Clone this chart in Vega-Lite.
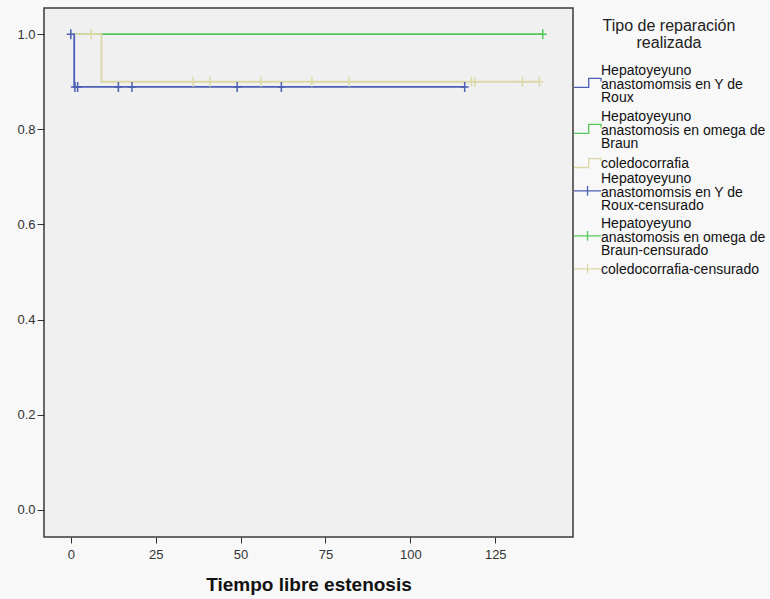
{
  "$schema": "https://vega.github.io/schema/vega-lite/v6.json",
  "width": 529,
  "height": 529,
  "autosize": "none",
  "padding": {"left": 44, "top": 8, "right": 197, "bottom": 62},
  "background": "#f8f8f8",
  "config": {
    "font": "Liberation Sans",
    "view": {"fill": "#f0f0f0", "stroke": "#3a3a3a", "strokeWidth": 1.5},
    "legend": {
      "labelFontSize": 14, "labelColor": "#111", "labelOffset": 12, "labelLimit": 300,
      "symbolSize": 196, "padding": 0
    }
  },
  "resolve": {"scale": {"stroke": "independent"}, "legend": {"stroke": "independent"}},
  "datasets": {
    "curvas": [
      {"tipo": "Hepatoyeyuno anastomosis en omega de Braun", "t": 0, "s": 1.0},
      {"tipo": "Hepatoyeyuno anastomosis en omega de Braun", "t": 139, "s": 1.0},
      {"tipo": "Hepatoyeyuno anastomomsis en Y de Roux", "t": 0, "s": 1.0},
      {"tipo": "Hepatoyeyuno anastomomsis en Y de Roux", "t": 1, "s": 0.889},
      {"tipo": "Hepatoyeyuno anastomomsis en Y de Roux", "t": 116, "s": 0.889},
      {"tipo": "coledocorrafia", "t": 0, "s": 1.0},
      {"tipo": "coledocorrafia", "t": 9, "s": 0.9},
      {"tipo": "coledocorrafia", "t": 138, "s": 0.9}
    ],
    "censuras": [
      {"tipo": "Hepatoyeyuno anastomomsis en Y de Roux-censurado", "t": 0, "s": 1.0},
      {"tipo": "Hepatoyeyuno anastomomsis en Y de Roux-censurado", "t": 1.2, "s": 0.889},
      {"tipo": "Hepatoyeyuno anastomomsis en Y de Roux-censurado", "t": 2, "s": 0.889},
      {"tipo": "Hepatoyeyuno anastomomsis en Y de Roux-censurado", "t": 14, "s": 0.889},
      {"tipo": "Hepatoyeyuno anastomomsis en Y de Roux-censurado", "t": 18, "s": 0.889},
      {"tipo": "Hepatoyeyuno anastomomsis en Y de Roux-censurado", "t": 49, "s": 0.889},
      {"tipo": "Hepatoyeyuno anastomomsis en Y de Roux-censurado", "t": 62, "s": 0.889},
      {"tipo": "Hepatoyeyuno anastomomsis en Y de Roux-censurado", "t": 116, "s": 0.889},
      {"tipo": "Hepatoyeyuno anastomosis en omega de Braun-censurado", "t": 139, "s": 1.0},
      {"tipo": "coledocorrafia-censurado", "t": 6, "s": 1.0},
      {"tipo": "coledocorrafia-censurado", "t": 36, "s": 0.9},
      {"tipo": "coledocorrafia-censurado", "t": 41, "s": 0.9},
      {"tipo": "coledocorrafia-censurado", "t": 56, "s": 0.9},
      {"tipo": "coledocorrafia-censurado", "t": 71, "s": 0.9},
      {"tipo": "coledocorrafia-censurado", "t": 82, "s": 0.9},
      {"tipo": "coledocorrafia-censurado", "t": 118, "s": 0.9},
      {"tipo": "coledocorrafia-censurado", "t": 119, "s": 0.9},
      {"tipo": "coledocorrafia-censurado", "t": 133, "s": 0.9},
      {"tipo": "coledocorrafia-censurado", "t": 138, "s": 0.9}
    ]
  },
  "encoding": {
    "x": {
      "field": "t", "type": "quantitative",
      "scale": {"domain": [-7.9, 147.9], "nice": false, "zero": false},
      "axis": {
        "values": [0, 25, 50, 75, 100, 125], "grid": false, "domain": false,
        "tickSize": 6, "tickColor": "#333", "labelColor": "#333", "labelFontSize": 13,
        "labelPadding": 5, "labelFlush": false,
        "title": "Tiempo libre estenosis", "titleFontSize": 19, "titleFontWeight": "bold",
        "titleColor": "#111", "titlePadding": 14
      }
    },
    "y": {
      "field": "s", "type": "quantitative",
      "scale": {"domain": [-0.057, 1.055], "nice": false, "zero": false},
      "axis": {
        "values": [0, 0.2, 0.4, 0.6, 0.8, 1.0], "format": ".1f", "grid": false, "domain": false,
        "tickSize": 7, "tickColor": "#333", "labelColor": "#333", "labelFontSize": 13,
        "labelPadding": 2, "labelFlush": false, "title": null
      }
    }
  },
  "layer": [
    {
      "data": {"name": "curvas"},
      "mark": {"type": "line", "interpolate": "step-after", "strokeWidth": 1.8},
      "encoding": {
        "stroke": {
          "field": "tipo", "type": "nominal",
          "scale": {
            "domain": [
              "Hepatoyeyuno anastomomsis en Y de Roux",
              "Hepatoyeyuno anastomosis en omega de Braun",
              "coledocorrafia"
            ],
            "range": ["#4a5fb5", "#55c85a", "#dcd7a6"]
          },
          "legend": {
            "orient": "none", "legendX": 529, "legendY": 10,
            "title": ["Tipo de reparación", "realizada"],
            "titleFontSize": 16, "titleFontWeight": "normal", "titleColor": "#222",
            "titleAlign": "center", "titleAnchor": "middle", "titleLineHeight": 17, "titlePadding": 12,
            "rowPadding": 4,
            "labelExpr": "datum.label == 'Hepatoyeyuno anastomomsis en Y de Roux' ? ['Hepatoyeyuno','anastomomsis en Y de','Roux'] : datum.label == 'Hepatoyeyuno anastomosis en omega de Braun' ? ['Hepatoyeyuno','anastomosis en omega de','Braun'] : datum.label",
            "encode": {
              "symbols": {
                "update": {
                  "shape": {"signal": "indexof(datum.value, 'Hepatoyeyuno') >= 0 ? 'M-1,2.34H1.1V1.06H2.86V1.5' : 'M-1,0.5H1.1V-0.78H2.86V-0.34'"},
                  "fill": {"value": "transparent"},
                  "stroke": {"signal": "indexof(datum.value, 'Roux') >= 0 ? '#4a5fb5' : indexof(datum.value, 'Braun') >= 0 ? '#55c85a' : '#dcd7a6'"},
                  "strokeWidth": {"value": 1.3},
                  "opacity": {"value": 1}
                }
              },
              "labels": {"update": {"lineHeight": {"value": 13.5}}}
            }
          }
        }
      }
    },
    {
      "data": {"name": "censuras"},
      "mark": {"type": "line", "interpolate": "step-after", "strokeWidth": 1, "strokeOpacity": 0},
      "encoding": {
        "stroke": {
          "field": "tipo", "type": "nominal",
          "scale": {
            "domain": [
              "Hepatoyeyuno anastomomsis en Y de Roux-censurado",
              "Hepatoyeyuno anastomosis en omega de Braun-censurado",
              "coledocorrafia-censurado"
            ],
            "range": ["#4a5fb5", "#55c85a", "#dcd7a6"]
          },
          "legend": {
            "orient": "none", "legendX": 529, "legendY": 163,
            "title": null,
            "rowPadding": 3,
            "labelExpr": "datum.label == 'Hepatoyeyuno anastomomsis en Y de Roux-censurado' ? ['Hepatoyeyuno','anastomomsis en Y de','Roux-censurado'] : datum.label == 'Hepatoyeyuno anastomosis en omega de Braun-censurado' ? ['Hepatoyeyuno','anastomosis en omega de','Braun-censurado'] : datum.label",
            "encode": {
              "symbols": {
                "update": {
                  "shape": {"signal": "indexof(datum.value, 'Hepatoyeyuno') >= 0 ? 'M-1,1.7H2.86M0.93,1V2.4' : 'M-1,-0.15H2.86M0.93,-0.85V0.55'"},
                  "fill": {"value": "transparent"},
                  "stroke": {"signal": "indexof(datum.value, 'Roux') >= 0 ? '#4a5fb5' : indexof(datum.value, 'Braun') >= 0 ? '#55c85a' : '#dcd7a6'"},
                  "strokeWidth": {"value": 1.3},
                  "opacity": {"value": 1},
                  "strokeOpacity": {"value": 1}
                }
              },
              "labels": {"update": {"lineHeight": {"value": 13.5}}}
            }
          }
        }
      }
    },
    {
      "data": {"name": "censuras"},
      "mark": {"type": "point", "shape": "M-1,0H1M0,-1.25V1.25", "filled": false, "size": 64, "strokeWidth": 1.5, "opacity": 1},
      "encoding": {
        "color": {
          "field": "tipo", "type": "nominal",
          "scale": {
            "domain": [
              "Hepatoyeyuno anastomomsis en Y de Roux-censurado",
              "Hepatoyeyuno anastomosis en omega de Braun-censurado",
              "coledocorrafia-censurado"
            ],
            "range": ["#4a5fb5", "#55c85a", "#dcd7a6"]
          },
          "legend": null
        }
      }
    }
  ]
}
